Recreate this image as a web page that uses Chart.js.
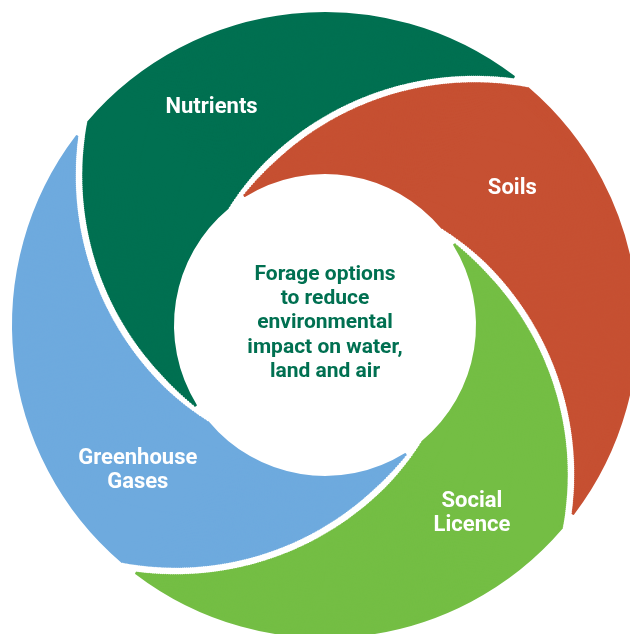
<!DOCTYPE html>
<html>
<head>
<meta charset="utf-8">
<script src="https://cdn.jsdelivr.net/npm/chart.js@4.4.1/dist/chart.umd.min.js"></script>
<style>
  html, body { margin: 0; padding: 0; background: #fff; }
</style>
</head>
<body>
<canvas id="mycanvas" width="630" height="634"></canvas>
<script>
var labels = ["Nutrients", "Soils", ["Social", "Licence"], ["Greenhouse", "Gases"]];
var values = [25, 25, 25, 25];
var colours = ["#007051", "#c65032", "#74be44", "#6eaade"];
var centreText = ["Forage options", "to reduce", "environmental", "impact on water,", "land and air"];

// label placement: radius (px) and share of the slice from its start
var labelRadius = [245, 232, 239, 237];
var labelFrac = [0.51, 0.47, 0.42, 0.43];

// swirl drawing: many thin rings, each turned a little, so the white gaps follow a curve
var OUTER = 312, INNER = 152, GAP = 7, BORDER = 2, RINGS = 160;
var ARC_D = 157, ARC_R = 294, ARC_ANGLE = 17.8; // the circle each gap runs along

function gapAngle(r) {
  var f = (r * r + ARC_D * ARC_D - ARC_R * ARC_R) / (2 * r * ARC_D);
  f = Math.max(-1, Math.min(1, f));
  return ARC_ANGLE - Math.acos(f) * 180 / Math.PI;
}

// half of the "spacing" option needed for a gap of GAP px across the curve
function halfSpacing(r) {
  var dt = (gapAngle(r + 0.5) - gapAngle(r - 0.5)) * Math.PI / 180;
  var tanB = Math.min(r * Math.abs(dt), 2.1);
  var gt = (GAP + BORDER) * Math.sqrt(1 + tanB * tanB);
  var slice = Math.PI / 2;
  return gt * r / (slice * r + gt / 2);
}

var radOut = OUTER - halfSpacing(OUTER);
var radIn = INNER - halfSpacing(INNER);
var ringW = (radOut - radIn) / RINGS;
var ringMid = [];

var datasets = [];
for (var k = 0; k < RINGS; k++) {
  var rn = radOut - (k + 0.5) * ringW;
  var s = halfSpacing(rn + 12);
  s = halfSpacing(rn + s);
  ringMid.push(rn + s);
  datasets.push({
    data: values,
    backgroundColor: colours,
    borderColor: colours,
    borderWidth: BORDER,
    borderJoinStyle: 'round',
    rotation: gapAngle(rn + s),
    spacing: 2 * s,
    clip: false
  });
}

var swirlLabels = {
  id: 'swirlLabels',
  afterDatasetsDraw: function(chart) {
    var ctx = chart.ctx;
    var first = chart.getDatasetMeta(0).data[0];
    var cx = first.x, cy = first.y;
    ctx.save();
    ctx.textAlign = 'center';
    ctx.textBaseline = 'middle';

    // segment names
    ctx.font = 'bold 22px Roboto';
    ctx.fillStyle = '#ffffff';
    for (var i = 0; i < labels.length; i++) {
      var best = 0;
      for (var k = 0; k < ringMid.length; k++) {
        if (Math.abs(ringMid[k] - labelRadius[i]) < Math.abs(ringMid[best] - labelRadius[i])) best = k;
      }
      var arc = chart.getDatasetMeta(best).data[i];
      var a = arc.startAngle + labelFrac[i] * (arc.endAngle - arc.startAngle);
      var x = cx + Math.cos(a) * labelRadius[i];
      var y = cy + Math.sin(a) * labelRadius[i];
      var lines = [].concat(labels[i]);
      for (var j = 0; j < lines.length; j++) {
        ctx.fillText(lines[j], x, y + (j - (lines.length - 1) / 2) * 24);
      }
    }

    // centre text
    ctx.font = 'bold 21px Roboto';
    ctx.fillStyle = colours[0];
    for (var m = 0; m < centreText.length; m++) {
      ctx.fillText(centreText[m], cx, cy - 2 + (m - 2) * 24.3);
    }
    ctx.restore();
  }
};

var ctx = document.getElementById('mycanvas');
var swirl = new Chart(ctx, {
  type: 'doughnut',
  data: {
    labels: labels,
    datasets: datasets
  },
  options: {
    responsive: false,
    animation: false,
    events: [],
    radius: radOut,
    cutout: (radIn / radOut * 100) + '%',
    layout: { padding: { left: 20, top: 16, right: 0, bottom: 0 } },
    plugins: {
      legend: { display: false },
      tooltip: { enabled: false }
    }
  },
  plugins: [swirlLabels]
});
</script>
</body>
</html>
